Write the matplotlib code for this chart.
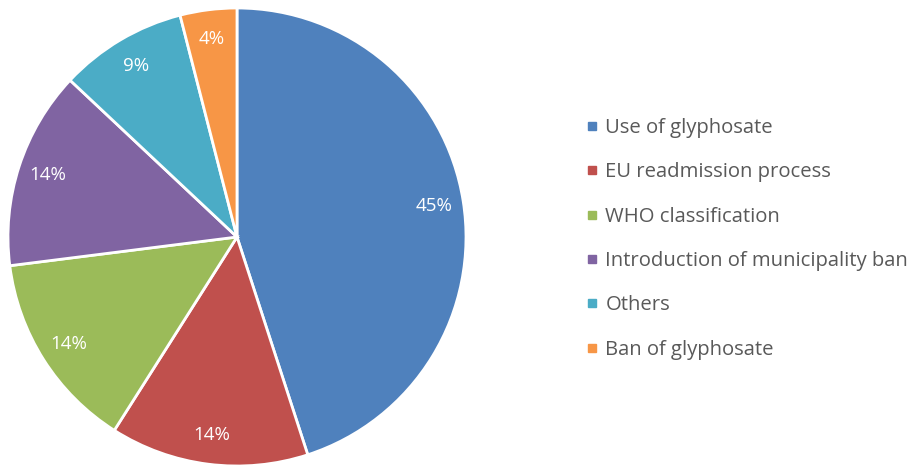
import matplotlib
matplotlib.use("Agg")
import matplotlib.pyplot as plt
from matplotlib.lines import Line2D

categories = ["Use of glyphosate", "EU readmission process", "WHO classification",
              "Introduction of municipality ban", "Others", "Ban of glyphosate"]
values = [45, 14, 14, 14, 9, 4]
colors = ["#4F81BD", "#C0504D", "#9BBB59", "#8064A2", "#4BACC6", "#F79646"]

plt.rcParams['font.family'] = ['Open Sans', 'DejaVu Sans']

W, H = 919, 465
fig = plt.figure(figsize=(W / 100, H / 100), dpi=100)
cx, cy, r = 237, 237, 229
ax = fig.add_axes([(cx - r) / W, (H - cy - r) / H, 2 * r / W, 2 * r / H])
ax.pie(values, colors=colors, startangle=90, counterclock=False,
       autopct=lambda p: f"{p:.0f}%", pctdistance=0.87,
       wedgeprops=dict(edgecolor="white", linewidth=2),
       textprops=dict(color="white", fontsize=13.5))
ax.set_xlim(-1.0, 1.0)
ax.set_ylim(-1.0, 1.0)
ax.set_aspect("equal")

handles = [Line2D([], [], marker="s", linestyle="none", markersize=6,
                  markerfacecolor=c, markeredgecolor=c) for c in colors]
leg = fig.legend(handles, categories, loc="upper left",
                 bbox_to_anchor=(577 / W, 1 - 108 / H),
                 frameon=False, fontsize=14.6, labelspacing=1.2,
                 handlelength=0.5, handletextpad=0.4, borderpad=0)
for t in leg.get_texts():
    t.set_color("#595959")

fig.savefig("out.png", dpi=100)
